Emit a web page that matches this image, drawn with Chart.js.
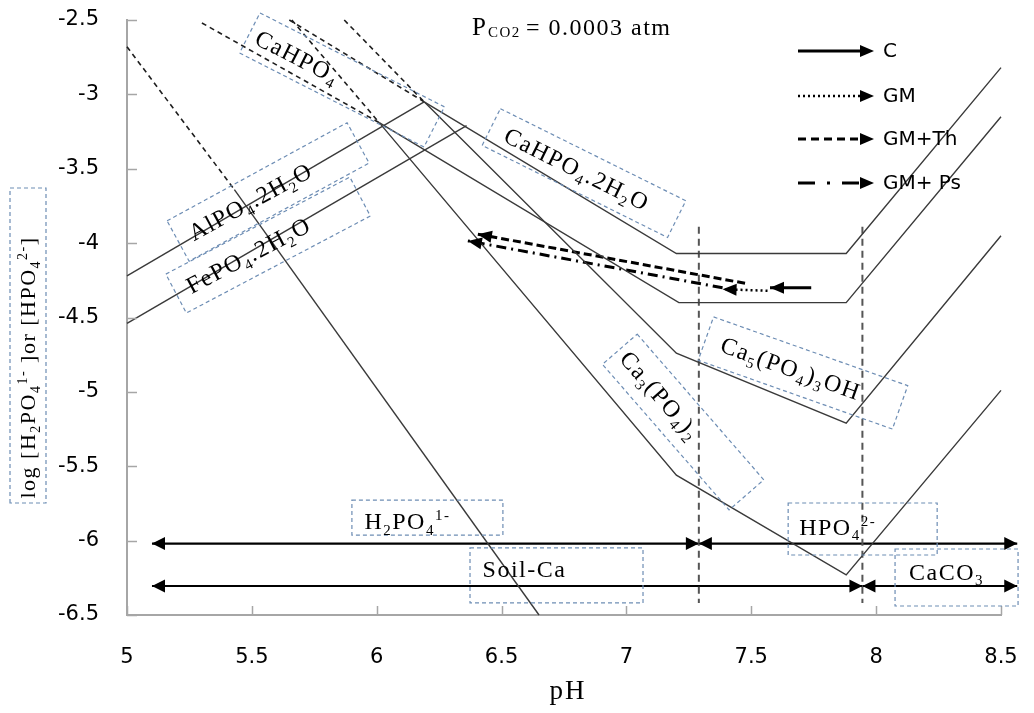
<!DOCTYPE html>
<html>
<head>
<meta charset="utf-8">
<script src="https://cdn.jsdelivr.net/npm/chart.js@4.4.1/dist/chart.umd.min.js"></script>
<style>
  html, body { margin: 0; padding: 0; background: #fff; }
  canvas { display: block; }
</style>
</head>
<body>
<canvas id="chart" width="1034" height="713"></canvas>
<script>
// axis ticks
const phTicks = [5, 5.5, 6, 6.5, 7, 7.5, 8, 8.5];
const logTicks = [-6.5, -6, -5.5, -5, -4.5, -4, -3.5, -3, -2.5];

// solubility lines (pH, log activity)
const alpo4PH = [5.0, 6.19];
const alpo4Log = [-4.22, -3.05];
const fepo4PH = [5.0, 6.36];
const fepo4Log = [-4.54, -3.21];

const cahpo4DashPH = [5.30, 6.01];
const cahpo4DashLog = [-2.52, -3.19];
const cahpo4PH = [6.01, 7.21, 7.88, 8.5];
const cahpo4Log = [-3.19, -4.40, -4.40, -3.15];

const brushiteDashPH = [5.65, 6.19];
const brushiteDashLog = [-2.50, -3.05];
const brushitePH = [6.19, 7.20, 7.88, 8.5];
const brushiteLog = [-3.05, -4.07, -4.07, -2.82];

const hapDashPH = [5.87, 6.19];
const hapDashLog = [-2.50, -3.05];
const hapPH = [6.19, 7.20, 7.88, 8.5];
const hapLog = [-3.05, -4.74, -5.21, -3.95];

const tcpDashPH = [5.66, 6.01];
const tcpDashLog = [-2.50, -3.19];
const tcpPH = [6.01, 7.20, 7.88, 8.5];
const tcpLog = [-3.19, -5.56, -6.23, -4.99];

const steepDashPH = [5.0, 5.43];
const steepDashLog = [-2.68, -3.64];
const steepPH = [5.43, 6.65];
const steepLog = [-3.64, -6.50];

// pK boundaries (vertical dashed lines)
const pkPH = [7.29, 7.945];
const pkLogRange = [-3.89, -6.42];

// boundary double arrows
const speciesArrowLog = -6.02;
const speciesArrowPH = [5.10, 7.29, 8.565];
const soilArrowLog = -6.305;
const soilArrowPH = [5.10, 7.945, 8.565];

// treatment arrows
const cPH = [7.74, 7.575];
const cLog = [-4.30, -4.30];
const gmPH = [7.565, 7.385];
const gmLog = [-4.32, -4.31];
const gmThPH = [7.475, 6.405];
const gmThLog = [-4.27, -3.94];
const gmPsPH = [7.385, 6.365];
const gmPsLog = [-4.30, -3.985];

const legendNames = ['C', 'GM', 'GM+Th', 'GM+ Ps'];

const SERIF = '"Liberation Serif", "Times New Roman", serif';
const SANS = '"DejaVu Sans", Verdana, sans-serif';

function pts(xs, ys) {
  return xs.map((x, i) => ({ x: x, y: ys[i] }));
}
function solidLine(xs, ys) {
  return { data: pts(xs, ys), borderColor: '#3a3a3a', borderWidth: 1.4 };
}
function dashLine(xs, ys) {
  return { data: pts(xs, ys), borderColor: '#1e1e1e', borderWidth: 1.6, borderDash: [5, 4] };
}
function arrowLine(xs, ys, opts) {
  return Object.assign({ data: pts(xs, ys), borderColor: '#000', borderWidth: 2.2, arrow: 'end' }, opts);
}

const datasets = [
  solidLine(alpo4PH, alpo4Log),
  solidLine(fepo4PH, fepo4Log),
  dashLine(cahpo4DashPH, cahpo4DashLog),
  solidLine(cahpo4PH, cahpo4Log),
  dashLine(brushiteDashPH, brushiteDashLog),
  solidLine(brushitePH, brushiteLog),
  dashLine(hapDashPH, hapDashLog),
  solidLine(hapPH, hapLog),
  dashLine(tcpDashPH, tcpDashLog),
  solidLine(tcpPH, tcpLog),
  dashLine(steepDashPH, steepDashLog),
  solidLine(steepPH, steepLog),
];
pkPH.forEach(p => {
  datasets.push({ data: pts([p, p], pkLogRange), borderColor: '#555', borderWidth: 2, borderDash: [7, 5] });
});
[[speciesArrowPH, speciesArrowLog], [soilArrowPH, soilArrowLog]].forEach(([xs, y]) => {
  datasets.push(arrowLine([xs[0], xs[1]], [y, y], { arrow: 'both' }));
  datasets.push(arrowLine([xs[1], xs[2]], [y, y], { arrow: 'both' }));
});
datasets.push(arrowLine(gmThPH, gmThLog, { borderWidth: 3, borderDash: [8, 4] }));
datasets.push(arrowLine(gmPsPH, gmPsLog, { borderWidth: 3, borderDash: [10, 5, 2, 5] }));
datasets.push(arrowLine(gmPH, gmLog, { borderWidth: 2.5, borderDash: [2, 3] }));
datasets.push(arrowLine(cPH, cLog, { borderWidth: 3 }));

datasets.forEach(d => {
  d.showLine = true;
  d.pointRadius = 0;
  d.fill = false;
  d.clip = false;
});

// labels: text parts [string, 0 normal / 1 sub / 2 sup]
const boxLabels = [
  { parts: [['CaHPO', 0], ['4', 1]], at: [5.861, -2.903], angle: 27, w: 207, h: 45, dx: -50 },
  { parts: [['AlPO', 0], ['4', 1], ['.2H', 0], ['2', 1], ['O', 0]], at: [5.565, -3.656], angle: -28.6, w: 205, h: 46, dx: -20 },
  { parts: [['FePO', 0], ['4', 1], ['.2H', 0], ['2', 1], ['O', 0]], at: [5.565, -4.013], angle: -27.8, w: 208, h: 44, dx: -22 },
  { parts: [['CaHPO', 0], ['4', 1], ['.2H', 0], ['2', 1], ['O', 0]], at: [6.830, -3.529], angle: 26.4, w: 207, h: 41, dx: -8 },
  { parts: [['Ca', 0], ['3', 1], ['(PO', 0], ['4', 1], [')', 0], ['2', 1]], at: [7.227, -5.203], angle: 49, w: 193, h: 46, dx: -35 },
  { parts: [['Ca', 0], ['5', 1], ['(PO', 0], ['4', 1], [')', 0], ['3', 1], ['OH', 0]], at: [7.707, -4.873], angle: 19.5, w: 206, h: 46, dx: -13 },
  { parts: [['H', 0], ['2', 1], ['PO', 0], ['4', 1], ['1-', 2]], at: [6.203, -5.845], angle: 0, w: 151, h: 35, dx: -20, dy: 4 },
  { parts: [['Soil-Ca', 0]], at: [6.72, -6.234], angle: 0, w: 173, h: 55, dx: -32, dy: -6 },
  { parts: [['HPO', 0], ['4', 1], ['2-', 2]], at: [7.946, -5.922], angle: 0, w: 149, h: 52, dx: -25, dy: -2 },
  { parts: [['CaCO', 0], ['3', 1]], at: [8.322, -6.248], angle: 0, w: 123, h: 57, dx: -10, dy: -5 },
];
const yTitleParts = [['log [H', 0], ['2', 1], ['PO', 0], ['4', 1], ['1-', 2], [' ]or [HPO', 0], ['4', 1], ['2-', 2], [']', 0]];

function partFont(ctx, size, kind) {
  ctx.font = (kind ? Math.round(size * 0.62) : size) + 'px ' + SERIF;
}
function richWidth(ctx, parts, size) {
  let w = 0;
  parts.forEach(([t, k]) => { partFont(ctx, size, k); w += ctx.measureText(t).width; });
  return w;
}
function drawRich(ctx, parts, size, x, base) {
  ctx.fillStyle = '#000';
  ctx.textAlign = 'left';
  ctx.textBaseline = 'alphabetic';
  parts.forEach(([t, k]) => {
    partFont(ctx, size, k);
    const off = k === 1 ? size * 0.22 : (k === 2 ? -size * 0.38 : 0);
    ctx.fillText(t, x, base + off);
    x += ctx.measureText(t).width;
  });
}
function drawBoxLabel(ctx, cx, cy, lab) {
  const size = lab.size || 24;
  ctx.save();
  ctx.translate(cx, cy);
  ctx.rotate(lab.angle * Math.PI / 180);
  ctx.setLineDash([4, 3]);
  ctx.strokeStyle = '#6d8db4';
  ctx.lineWidth = 1.2;
  ctx.strokeRect(-lab.w / 2, -lab.h / 2, lab.w, lab.h);
  ctx.setLineDash([]);
  ctx.letterSpacing = '1.5px';
  const tw = richWidth(ctx, lab.parts, size);
  drawRich(ctx, lab.parts, size, (lab.dx || 0) - tw / 2, (lab.dy || 0) + size * 0.32);
  ctx.restore();
}
function head(ctx, x, y, fx, fy, len, half, color) {
  const a = Math.atan2(y - fy, x - fx);
  ctx.save();
  ctx.translate(x, y);
  ctx.rotate(a);
  ctx.beginPath();
  ctx.moveTo(0, 0);
  ctx.lineTo(-len, -half);
  ctx.lineTo(-len, half);
  ctx.closePath();
  ctx.fillStyle = color;
  ctx.fill();
  ctx.restore();
}
function noScalePadding(s) {
  s.paddingTop = 0;
  s.paddingBottom = 0;
  s.paddingLeft = 0;
  s.paddingRight = 0;
}

const decor = {
  id: 'decor',
  afterDraw(chart) {
    const ctx = chart.ctx;
    const xs = chart.scales.x, ys = chart.scales.y;
    const area = chart.chartArea;

    // inward tick marks
    ctx.save();
    ctx.strokeStyle = '#a6a6a6';
    ctx.lineWidth = 1.5;
    logTicks.forEach(v => {
      const py = Math.round(ys.getPixelForValue(v)) + 0.5;
      ctx.beginPath(); ctx.moveTo(area.left, py); ctx.lineTo(area.left + 10, py); ctx.stroke();
    });
    phTicks.forEach(v => {
      const px = Math.round(xs.getPixelForValue(v)) + 0.5;
      ctx.beginPath(); ctx.moveTo(px, area.bottom); ctx.lineTo(px, area.bottom - 9); ctx.stroke();
    });
    ctx.restore();

    // arrowheads
    chart.data.datasets.forEach((d, i) => {
      if (!d.arrow) return;
      const p = chart.getDatasetMeta(i).data;
      const n = p.length;
      const len = d.arrow === 'both' ? 13 : 14;
      const half = d.arrow === 'both' ? 6.5 : 6;
      head(ctx, p[n - 1].x, p[n - 1].y, p[n - 2].x, p[n - 2].y, len, half, '#000');
      if (d.arrow === 'both') head(ctx, p[0].x, p[0].y, p[1].x, p[1].y, len, half, '#000');
    });

    // boxed labels
    boxLabels.forEach(lab => {
      drawBoxLabel(ctx, xs.getPixelForValue(lab.at[0]), ys.getPixelForValue(lab.at[1]), lab);
    });

    // y axis title
    drawBoxLabel(ctx, 28, 345.5, { parts: yTitleParts, angle: -90, w: 315, h: 36, dx: -22, size: 22 });

    // x axis title
    ctx.save();
    ctx.letterSpacing = '2px';
    const phW = richWidth(ctx, [['pH', 0]], 27);
    drawRich(ctx, [['pH', 0]], 27, 568 - phW / 2, 699);
    ctx.restore();

    // P CO2 note
    ctx.save();
    ctx.letterSpacing = '1.5px';
    ctx.fillStyle = '#000';
    ctx.font = '25px ' + SERIF;
    ctx.fillText('P', 472, 35);
    ctx.font = '15px ' + SERIF;
    ctx.fillText('CO2', 488, 37);
    ctx.font = '24px ' + SERIF;
    ctx.fillText('= 0.0003 atm', 526, 35);
    ctx.restore();

    // legend
    const dashes = [[], [2, 3], [8, 5], [17, 12, 3, 12]];
    const widths = [3, 2.5, 3, 3];
    const legY = [51, 96, 139, 183];
    ctx.save();
    legendNames.forEach((name, i) => {
      ctx.setLineDash(dashes[i]);
      ctx.lineWidth = widths[i];
      ctx.strokeStyle = '#000';
      ctx.beginPath(); ctx.moveTo(798, legY[i]); ctx.lineTo(862, legY[i]); ctx.stroke();
      ctx.setLineDash([]);
      head(ctx, 874, legY[i], 798, legY[i], 14, 6, '#000');
      ctx.fillStyle = '#000';
      ctx.font = '20px ' + SANS;
      ctx.textBaseline = 'middle';
      ctx.textAlign = 'left';
      ctx.fillText(name, 883, legY[i] + 1);
    });
    ctx.restore();
  }
};

new Chart(document.getElementById('chart'), {
  type: 'scatter',
  data: { datasets: datasets },
  options: {
    responsive: false,
    animation: false,
    layout: { padding: { left: 0, top: 20, right: 33, bottom: 0 } },
    plugins: { legend: { display: false }, tooltip: { enabled: false } },
    elements: { line: { tension: 0 } },
    scales: {
      x: {
        type: 'linear', min: 5, max: 8.5,
        afterBuildTicks: s => { s.ticks = phTicks.map(v => ({ value: v })); },
        afterFit: s => { s.height = 98; noScalePadding(s); },
        grid: { display: false },
        border: { display: true, color: '#a6a6a6', width: 2 },
        ticks: { color: '#000', font: { family: SANS, size: 21 }, padding: 22, maxRotation: 0, autoSkip: false, callback: v => String(v) }
      },
      y: {
        type: 'linear', min: -6.5, max: -2.5,
        afterBuildTicks: s => { s.ticks = logTicks.map(v => ({ value: v })); },
        afterFit: s => { s.width = 127; noScalePadding(s); },
        grid: { display: false },
        border: { display: true, color: '#a6a6a6', width: 2 },
        ticks: { color: '#000', font: { family: SANS, size: 21 }, padding: 20, autoSkip: false, callback: v => String(v) }
      }
    }
  },
  plugins: [decor]
});
</script>
</body>
</html>
